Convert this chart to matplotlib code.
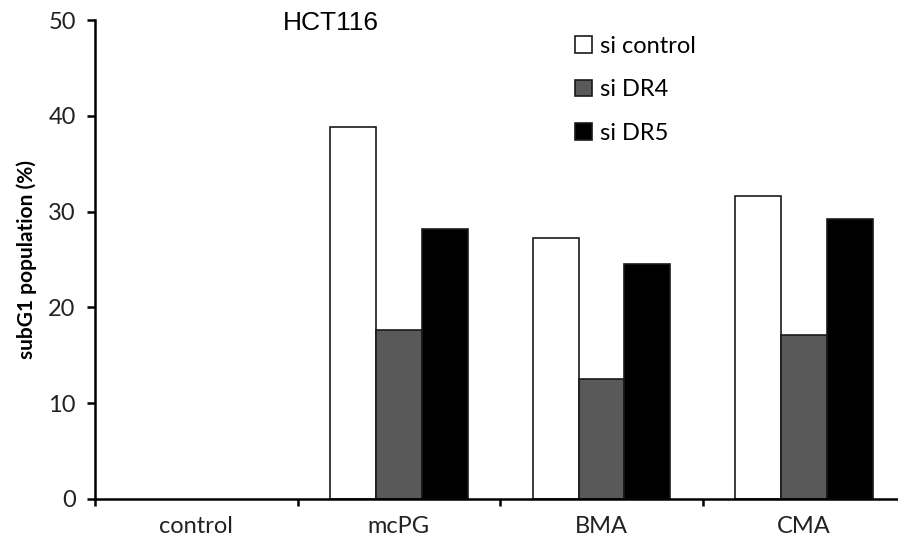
import matplotlib
matplotlib.use('Agg')
import matplotlib.pyplot as plt
from matplotlib.patches import Patch
import numpy as np

# Daten
categories = ['control', 'mcPG', 'BMA', 'CMA']
series_names = ['si control', 'si DR4', 'si DR5']
si_control = [0.0, 38.8, 27.3, 31.6]
si_dr4 = [0.0, 17.6, 12.5, 17.1]
si_dr5 = [0.0, 28.2, 24.5, 29.2]
y_ticks = [0, 10, 20, 30, 40, 50]

bar_colors = ['#ffffff', '#595959', '#000000']
font = 'Lato'

fig = plt.figure(figsize=(8.98, 5.47), dpi=100)
ax = fig.add_axes([0.106, 0.088, 0.902, 0.875])

x = np.arange(len(categories))
w = 0.226
for i, (vals, col) in enumerate(zip([si_control, si_dr4, si_dr5], bar_colors)):
    vals = np.array(vals)
    # keine Kante bei Nullwerten
    lw = np.where(vals > 0, 1.2, 0)
    ax.bar(x + (i - 1) * w, vals, width=w, color=col, edgecolor='#1a1a1a',
           linewidth=lw, zorder=2)

ax.set_xlim(-0.5, len(categories) - 0.5)
ax.set_ylim(0, 50)
ax.set_yticks(y_ticks)
ax.set_xticks(x)
ax.set_xticklabels(categories, fontsize=17, family=font, color='#222222')
ax.set_xticks(np.arange(-0.5, len(categories)), minor=True)
ax.tick_params(axis='x', which='major', length=0, pad=12)
ax.tick_params(axis='x', which='minor', length=5, width=1.8, direction='out')
ax.tick_params(axis='y', length=6, width=1.8, direction='out', labelsize=17,
               labelcolor='#222222', pad=8)
for lab in ax.get_yticklabels():
    lab.set_family(font)

for s in ['top', 'right']:
    ax.spines[s].set_visible(False)
for s in ['left', 'bottom']:
    ax.spines[s].set_linewidth(1.8)

ax.set_ylabel('subG1 population (%)', fontsize=15, weight='bold', family=font,
              labelpad=8)

ax.text(0.291, 0.995, 'HCT116', transform=ax.transAxes, fontsize=19,
        family='Liberation Sans', ha='center', va='center')

handles = [Patch(facecolor=c, edgecolor='#1a1a1a', linewidth=1.2) for c in bar_colors]
leg = ax.legend(handles, series_names, loc='upper left', bbox_to_anchor=(0.572, 1.002),
                frameon=False, handlelength=0.7, handleheight=0.7, handletextpad=0.35,
                labelspacing=0.95, borderpad=0.2, prop={'family': font, 'size': 17})

fig.savefig('out.png', dpi=100, facecolor='white')
